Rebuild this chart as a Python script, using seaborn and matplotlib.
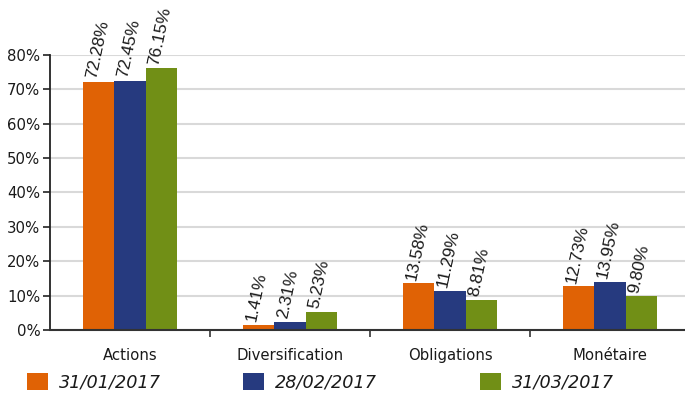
import matplotlib
matplotlib.use("Agg")
import matplotlib.pyplot as plt
import seaborn as sns
import pandas as pd
from matplotlib.ticker import FuncFormatter, FixedLocator

categories = ["Actions", "Diversification", "Obligations", "Monétaire"]
dates = ["31/01/2017", "28/02/2017", "31/03/2017"]
values_jan = [72.28, 1.41, 13.58, 12.73]
values_feb = [72.45, 2.31, 11.29, 13.95]
values_mar = [76.15, 5.23, 8.81, 9.80]
colors = ["#E06205", "#263A7F", "#718F16"]
yticks = [0, 10, 20, 30, 40, 50, 60, 70, 80]

rows = []
for d, vals in zip(dates, [values_jan, values_feb, values_mar]):
    for c, v in zip(categories, vals):
        rows.append({"category": c, "date": d, "value": v})
df = pd.DataFrame(rows)

sns.set_theme(style="white")
plt.rcParams["font.family"] = ["DejaVu Sans"]

fig = plt.figure(figsize=(6.85, 3.94), dpi=100)
ax = fig.add_axes([50 / 685, 1 - 330 / 394, 640 / 685, 275 / 394])

sns.barplot(data=df, x="category", y="value", hue="date", order=categories,
            hue_order=dates, palette=colors, saturation=1, width=0.585,
            linewidth=0, ax=ax, legend=True)

ax.set_ylim(0, 80)
ax.set_xlim(-0.5, 3.5)
ax.set_yticks(yticks)
ax.yaxis.set_major_formatter(FuncFormatter(lambda v, p: f"{v:.0f}%"))
ax.yaxis.grid(True, color="#d9d9d9", linewidth=1.5)
ax.set_axisbelow(True)
ax.set_xlabel("")
ax.set_ylabel("")

for side in ["top", "right"]:
    ax.spines[side].set_visible(False)
ax.spines["left"].set_color("#222222")
ax.spines["left"].set_linewidth(1.3)
ax.spines["bottom"].set_color("#333333")
ax.spines["bottom"].set_linewidth(1.5)

ax.tick_params(axis="y", which="major", left=True, length=5, width=1.2,
               color="#222222", labelsize=10.7, labelcolor="#1a1a1a", pad=2)
ax.tick_params(axis="x", which="major", bottom=False, length=0,
               labelsize=10.7, labelcolor="#1a1a1a", pad=13)
ax.xaxis.set_minor_locator(FixedLocator([0.5, 1.5, 2.5]))
ax.tick_params(axis="x", which="minor", bottom=True, length=5, width=1.2,
               color="#333333")

# rotated value labels above every bar
for container in ax.containers:
    for bar in container:
        h = bar.get_height()
        ax.annotate(f"{h:.2f}%", (bar.get_x() + bar.get_width() / 2, h),
                    xytext=(0, 1.5), textcoords="offset points",
                    rotation=78, rotation_mode="anchor", ha="left", va="bottom",
                    fontsize=12.5, family="Liberation Sans",
                    color="#1a1a1a", annotation_clip=False)

handles, labels = ax.get_legend_handles_labels()
ax.get_legend().remove()
legend_x = [27, 243, 480]
for hdl, lab, lx in zip(handles, labels, legend_x):
    leg = fig.legend([hdl], [lab], loc="center left",
                     bbox_to_anchor=(lx / 685, 1 - 382 / 394),
                     frameon=False, borderpad=0, borderaxespad=0,
                     handlelength=1.19, handleheight=1.19, handletextpad=0.6,
                     prop={"size": 12.7, "style": "italic", "family": "DejaVu Sans"})
    for t in leg.get_texts():
        t.set_color("#1a1a1a")

fig.savefig("out.png", dpi=100)
